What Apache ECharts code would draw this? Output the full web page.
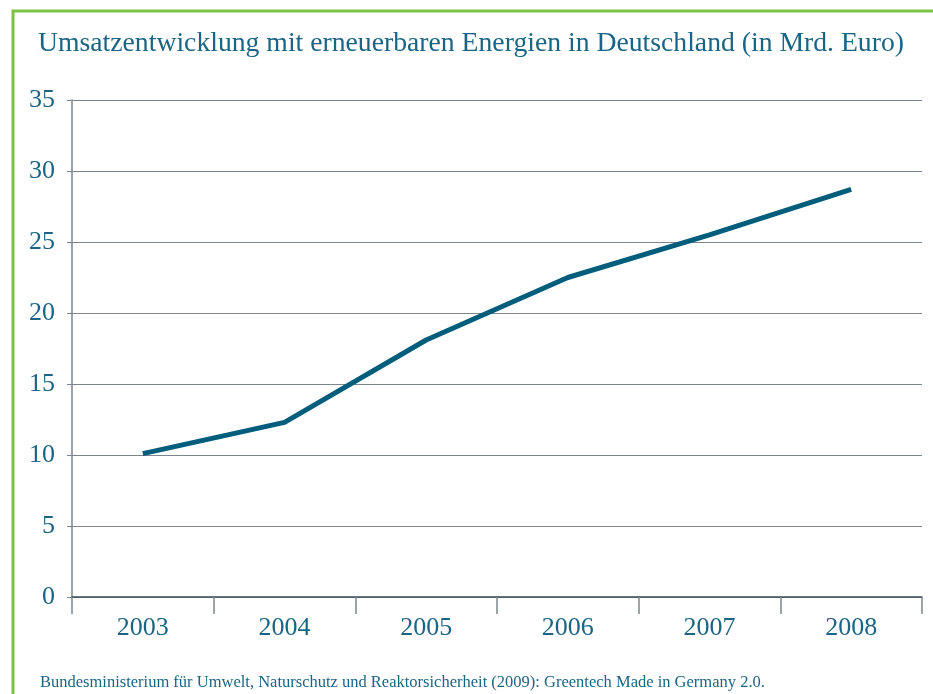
<!doctype html>
<html>
<head>
    <meta charset="utf-8">
    <script src="https://cdn.jsdelivr.net/npm/echarts@6/dist/echarts.min.js"></script>
</head>
<body style="margin: 0; background: #fff">
    <div id="container" style="width: 933px; height: 694px"></div>
    <script type="text/javascript">
        // Umsatz erneuerbare Energien, Mrd. Euro
        var years = ['2003', '2004', '2005', '2006', '2007', '2008'];
        var umsatz = [10.1, 12.3, 18.1, 22.5, 25.5, 28.7];

        var teal = '#1b6584';
        var serif = '"Liberation Serif", "DejaVu Serif", serif';

        var myChart = echarts.init(document.getElementById('container'));
        var option = {
            animation: false,
            title: [{
                text: 'Umsatzentwicklung mit erneuerbaren Energien in Deutschland (in Mrd. Euro)',
                left: 33,
                top: 25,
                textStyle: { fontFamily: serif, fontSize: 27.7, fontWeight: 'normal', color: teal }
            }, {
                text: 'Bundesministerium für Umwelt, Naturschutz und Reaktorsicherheit (2009): Greentech Made in Germany 2.0.',
                left: 35,
                top: 669,
                textStyle: { fontFamily: serif, fontSize: 16.5, fontWeight: 'normal', color: teal }
            }],
            graphic: [{
                type: 'polyline',
                shape: { points: [[13, 694], [13, 11], [933, 11]] },
                style: { stroke: '#7cc245', lineWidth: 3, fill: null }
            }],
            grid: { left: 72, right: 11, top: 100, bottom: 97 },
            xAxis: {
                type: 'category',
                data: years,
                boundaryGap: true,
                axisLine: { lineStyle: { color: '#3e4e5a', width: 1.5 } },
                axisTick: { show: true, length: 17, lineStyle: { color: '#7d868c', width: 1.5 } },
                axisLabel: { fontFamily: serif, fontSize: 26, color: teal, margin: 18 }
            },
            yAxis: {
                type: 'value',
                min: 0,
                max: 35,
                interval: 5,
                axisLine: { show: true, lineStyle: { color: '#7d868c', width: 1.5 } },
                axisTick: { show: true, length: 5, lineStyle: { color: '#7d868c' } },
                axisLabel: { fontFamily: serif, fontSize: 26, color: teal, margin: 17, padding: [5, 0, 0, 0] },
                splitLine: { lineStyle: { color: '#7d868c', width: 1 } }
            },
            series: [{
                type: 'line',
                data: umsatz,
                symbol: 'none',
                lineStyle: { color: '#005d7c', width: 5 }
            }]
        };
        myChart.setOption(option);
    </script>
</body>
</html>
